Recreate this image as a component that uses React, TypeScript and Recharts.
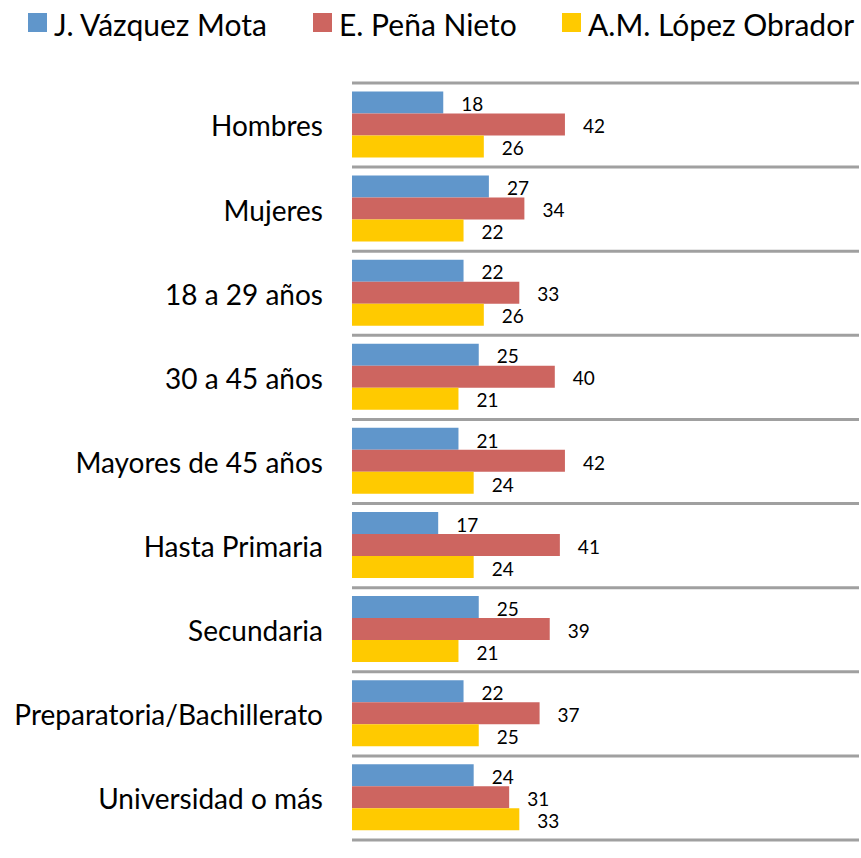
import React from 'react';
import { BarChart, Bar, XAxis, YAxis, CartesianGrid, Legend, LabelList } from 'recharts';

const categories = [
  'Hombres',
  'Mujeres',
  '18 a 29 años',
  '30 a 45 años',
  'Mayores de 45 años',
  'Hasta Primaria',
  'Secundaria',
  'Preparatoria/Bachillerato',
  'Universidad o más',
];
const vazquezMota = [18, 27, 22, 25, 21, 17, 25, 22, 24];
const penaNieto = [42, 34, 33, 40, 42, 41, 39, 37, 31];
const lopezObrador = [26, 22, 26, 21, 24, 24, 21, 25, 33];

const seriesNames = ['J. Vázquez Mota', 'E. Peña Nieto', 'A.M. López Obrador'];
const seriesKeys = ['jvm', 'epn', 'amlo'];
const seriesColors = ['#6096CB', '#CD6560', '#FFCA00'];

const data = categories.map((c, i) => ({
  cat: c,
  jvm: vazquezMota[i],
  epn: penaNieto[i],
  amlo: lopezObrador[i],
}));

const FONT = 'Lato, "Open Sans", sans-serif';
const legendLeft = [28, 313, 562];

const renderLegend = () => (
  <div style={{ position: 'relative', width: 861, height: 45, fontFamily: FONT, fontSize: 30, color: '#000' }}>
    {seriesNames.map((n, i) => (
      <div key={n} style={{ position: 'absolute', left: legendLeft[i], top: 0, height: 45, display: 'flex', alignItems: 'center', whiteSpace: 'nowrap' }}>
        <span style={{ display: 'inline-block', width: 19, height: 19, background: seriesColors[i], marginRight: 7 }} />
        <span style={{ paddingTop: 2 }}>{n}</span>
      </div>
    ))}
  </div>
);

const gridGen = (props: any) => {
  const { offset } = props;
  const out: number[] = [];
  const n = categories.length;
  for (let i = 0; i <= n; i++) out.push(offset.top + (offset.height * i) / n);
  return out;
};

export default function App() {
  return (
    <div style={{ position: 'absolute', left: 0, top: 0, background: '#fff' }}>
      <BarChart
        width={861}
        height={858}
        data={data}
        layout="vertical"
        margin={{ top: 38, right: 2, bottom: 18, left: 0 }}
        barCategoryGap="10%"
        barGap={0}
      >
        <Legend verticalAlign="top" align="left" content={renderLegend} wrapperStyle={{ top: 0, left: 0 }} />
        <CartesianGrid horizontal vertical={false} stroke="#A0A0A0" strokeWidth={3} horizontalCoordinatesGenerator={gridGen} />
        <XAxis type="number" domain={[0, 100]} hide />
        <YAxis
          type="category"
          dataKey="cat"
          width={352}
          tickLine={false}
          axisLine={false}
          tickSize={0}
          tickMargin={29}
          tick={{ fill: '#000', fontSize: 28, fontFamily: FONT, dy: 1.5 }}
        />
        {seriesKeys.map((k, i) => (
          <Bar key={k} dataKey={k} name={seriesNames[i]} fill={seriesColors[i]} isAnimationActive={false}>
            <LabelList dataKey={k} position="right" offset={18} dy={2} style={{ fill: '#000', fontSize: 19, fontFamily: FONT }} />
          </Bar>
        ))}
      </BarChart>
    </div>
  );
}
